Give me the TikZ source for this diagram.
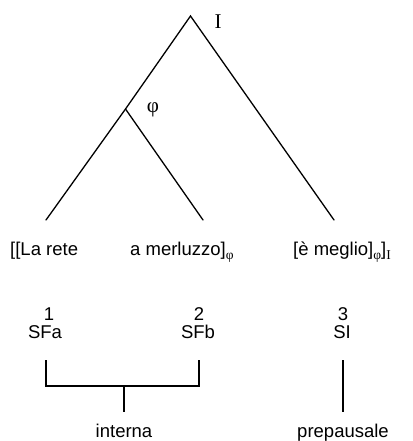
\documentclass[tikz,border=0pt]{standalone}
\usepackage{fontspec}
\setmainfont{Liberation Sans}
\newfontfamily\serifgr{Liberation Serif}
% small serif subscripts for the bracket labels
\newcommand\subphi{\raisebox{-4.5pt}{\serifgr\fontsize{13.5}{13.5}\selectfont φ}}
\newcommand\subI{\raisebox{-4pt}{\serifgr\fontsize{13.5}{13.5}\selectfont I}}
\begin{document}
\begin{tikzpicture}[x=1pt,y=-1pt,
  branch/.style={line width=1.3pt, line cap=round},
  brk/.style={line width=1.3pt},
  lab/.style={font=\fontsize{18.5}{20}\selectfont, inner sep=0pt, anchor=base},
  cat/.style={font=\serifgr\fontsize{21}{22}\selectfont, inner sep=0pt}]
\useasboundingbox (0,0) rectangle (412,441);

% tree
\coordinate (top) at (190.5,16);
\coordinate (phi) at (125.5,109);
\coordinate (lfoot) at (46,220);
\coordinate (pfoot) at (203,220);
\coordinate (rfoot) at (334,220);
\draw[branch] (lfoot) -- (phi) -- (top) -- (rfoot);
\draw[branch] (phi) -- (pfoot);
\node[cat] (Ilab) at (218,22) {I};
\node[cat] (philab) at (153,110) {φ};

% terminal string
\node[lab, anchor=base west] (w1) at (10,255) {[[La rete};
\node[lab, anchor=base west] (w2) at (130,255) {a merluzzo]\subphi};
\node[lab, anchor=base west] (w3) at (293,255) {[è meglio]\subphi]\subI};

% boundary numbers and types
\node[lab] (n1) at (49,320) {1};
\node[lab] (n2) at (199,320) {2};
\node[lab] (n3) at (343,320) {3};
\node[lab] (s1) at (45,338) {SFa};
\node[lab] (s2) at (198,338) {SFb};
\node[lab] (s3) at (342,338) {SI};

% brackets
\coordinate (b1) at (46,360);
\coordinate (b1d) at (46,386);
\coordinate (b2) at (199,360);
\coordinate (b2d) at (199,386);
\coordinate (bm) at (124,386);
\coordinate (bmd) at (124,412);
\coordinate (b3) at (343,360);
\coordinate (b3d) at (343,412);
\draw[brk] (b1) -- (b1d) -- (b2d) -- (b2);
\draw[brk] (bm) -- (bmd);
\draw[brk] (b3) -- (b3d);

\node[lab] (int) at (124,437) {interna};
\node[lab] (pre) at (343,437) {prepausale};
\end{tikzpicture}
\end{document}
